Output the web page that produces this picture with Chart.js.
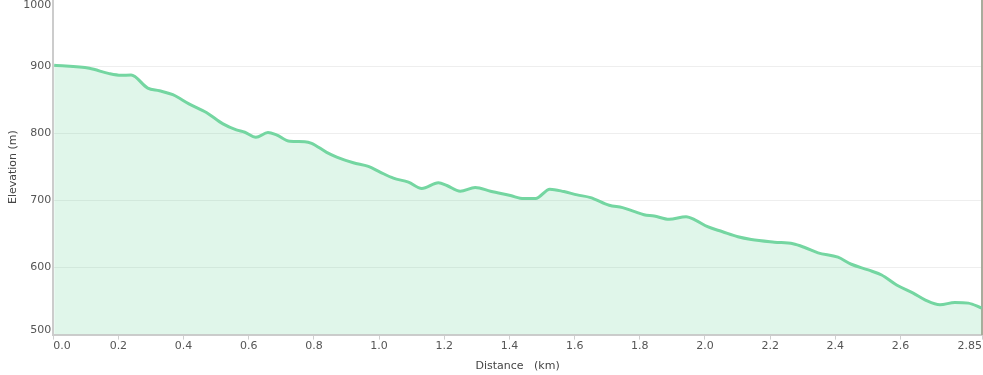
<!DOCTYPE html>
<html>
<head>
<meta charset="utf-8">
<script src="https://cdn.jsdelivr.net/npm/chart.js@4"></script>
<style>
  html, body { margin: 0; padding: 0; background: #fff; overflow: hidden; }
  #wrap { width: 983px; height: 382px; position: relative; margin-top: -9px; }
</style>
</head>
<body>
<div id="wrap"><canvas id="c"></canvas></div>
<script>
const distanceKm = [0.003,0.111,0.172,0.208,0.239,0.290,0.326,0.367,0.418,0.470,0.521,0.562,0.588,0.622,0.659,0.685,0.726,0.772,0.793,0.839,0.870,0.921,0.967,1.003,1.044,1.090,1.131,1.182,1.208,1.249,1.295,1.342,1.403,1.444,1.480,1.524,1.567,1.608,1.649,1.706,1.747,1.782,1.813,1.844,1.890,1.942,1.972,2.008,2.054,2.101,2.142,2.213,2.270,2.306,2.347,2.408,2.449,2.501,2.542,2.588,2.639,2.675,2.721,2.767,2.808,2.849];
const elevationM = [902,897.5,889.5,887,887.5,868,864,858,844,831.5,814.5,805.5,802,794.5,801.5,798,788.5,788,785.5,772,765,756.5,751,742.5,733.5,727.5,718,726.5,722.5,714,719.5,714,707.5,703,703,717,713.5,708.5,704.5,693,689.5,684,679,677,672,676,670.5,661,653.5,646,642,638,635.5,630,622,615.5,605,596.5,589,574,562,552,544.5,548,547,539.5];
const xMin = 0, xMax = 2.85, xStep = 0.2;
const yMin = 500, yMax = 1000, yStep = 100;
const xTitle = 'Distance   (km)';
const yTitle = 'Elevation (m)';

const points = distanceKm.map((d, i) => ({x: d, y: elevationM[i]}));
const font = {family: 'DejaVu Sans', size: 11};
const labelColor = '#555';

// Draw the end labels of the y axis inside the axis range (inner alignment)
const yEndLabels = {
  id: 'yEndLabels',
  afterDraw(chart) {
    const s = chart.scales.y;
    const c = chart.ctx;
    c.save();
    c.font = '11px "DejaVu Sans"';
    c.fillStyle = labelColor;
    c.textAlign = 'right';
    const xr = s.right - 2;
    c.textBaseline = 'bottom';
    c.fillText(String(yMin), xr, s.getPixelForValue(yMin) + 1);
    c.textBaseline = 'top';
    c.fillText(String(yMax), xr, s.getPixelForValue(yMax));
    c.restore();
  }
};

new Chart(document.getElementById('c'), {
  type: 'line',
  data: {
    datasets: [{
      data: points,
      borderColor: 'rgb(116,214,161)',
      backgroundColor: 'rgba(116,214,161,0.22)',
      borderWidth: 3,
      fill: 'start',
      pointRadius: 0,
      cubicInterpolationMode: 'monotone'
    }]
  },
  plugins: [yEndLabels],
  options: {
    responsive: true,
    maintainAspectRatio: false,
    animation: false,
    layout: {padding: {top: 0, right: -7, left: 7, bottom: 0}},
    plugins: {legend: {display: false}, tooltip: {enabled: false}},
    scales: {
      x: {
        type: 'linear',
        min: xMin, max: xMax,
        grid: {display: true, drawOnChartArea: false, drawTicks: true, tickLength: 5, color: '#cfcfcf'},
        border: {color: '#cccccc', width: 2},
        ticks: {
          stepSize: xStep, align: 'inner', color: labelColor, font: font, padding: 0, maxRotation: 0,
          callback: (v) => (Math.abs(v - xMax) < 1e-9 ? String(xMax) : v.toFixed(1))
        },
        title: {display: true, text: xTitle, color: '#444', font: font, padding: {top: 7, bottom: 0}}
      },
      y: {
        min: yMin, max: yMax,
        grid: {color: '#eeeeee', drawTicks: false},
        border: {color: '#cccccc', width: 2},
        ticks: {stepSize: yStep, font: font, padding: 2,
          color: (ctx) => (ctx.tick && (ctx.tick.value === yMin || ctx.tick.value === yMax)) ? 'rgba(0,0,0,0)' : labelColor,
          callback: (v) => String(v)},
        title: {display: true, text: yTitle, color: '#444', font: font, padding: {top: 0, bottom: 1}}
      },
      yR: {
        position: 'right',
        min: yMin, max: yMax,
        grid: {display: false},
        border: {color: '#a9ac9c', width: 2},
        ticks: {display: false}
      }
    }
  }
});
</script>
</body>
</html>
